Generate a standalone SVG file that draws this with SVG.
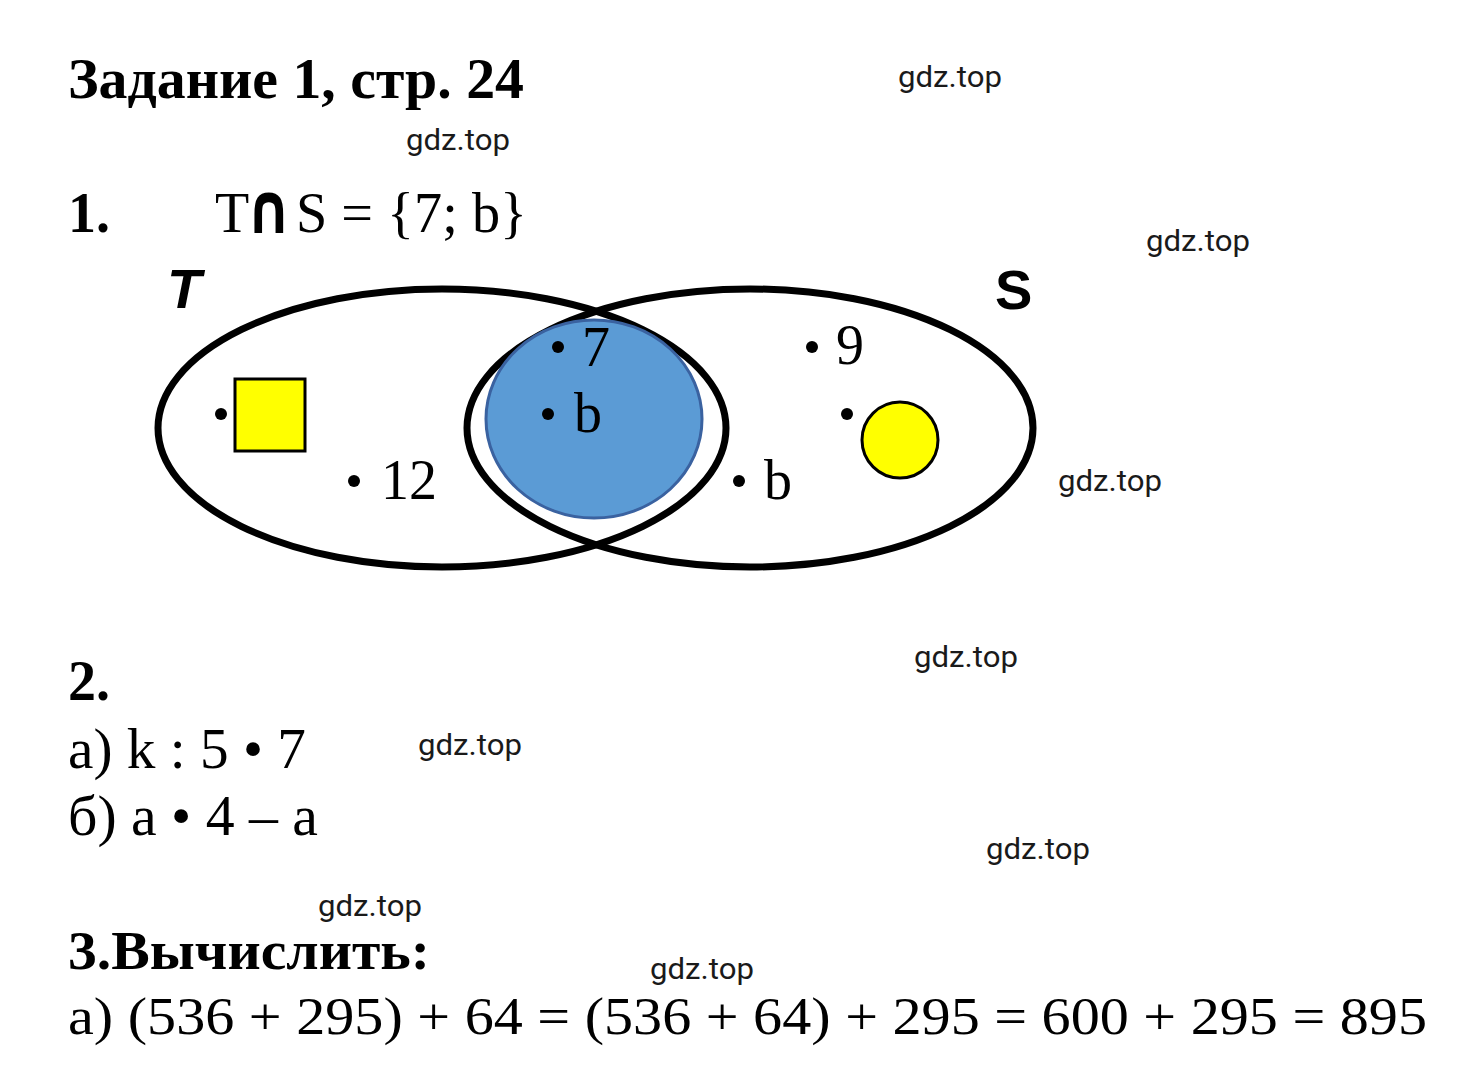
<svg xmlns="http://www.w3.org/2000/svg" width="1476" height="1083" viewBox="0 0 1476 1083">
<style>
.serif{font-family:"Liberation Serif","Times New Roman",serif;fill:#000}
.bold{font-weight:bold}
.wm{font-family:Roboto,"Liberation Sans",sans-serif;font-size:29px;fill:#1a1a1a}
.set{fill:none;stroke:#000;stroke-width:7}
.dot{fill:#000}
.lbl{font-family:"Liberation Serif",serif;font-size:56px;fill:#000}
</style>
<rect width="1476" height="1083" fill="#fff"/>
<g id="title"><text class="serif bold" x="68" y="98" font-size="57" textLength="456" lengthAdjust="spacingAndGlyphs">Задание 1, стр. 24</text></g>
<g id="task1">
<text class="serif bold" x="68" y="232" font-size="56">1.</text>
<text class="serif" x="215" y="232" font-size="56">T</text>
<text transform="translate(246,233) scale(1,1.25)" font-family="DejaVu Sans,sans-serif" font-size="56" font-weight="bold" fill="#000">∩</text>
<text class="serif" x="296" y="232" font-size="56" textLength="231" lengthAdjust="spacingAndGlyphs">S = {7; b}</text>
</g>
<g id="venn">
<g id="set-T"><ellipse class="set" cx="442" cy="428" rx="284" ry="139"/>
<text x="167" y="308" font-family="Liberation Sans,Arial,sans-serif" font-size="56" font-weight="bold" font-style="italic">T</text></g>
<g id="set-S"><ellipse class="set" cx="750" cy="428" rx="283" ry="139"/>
<text x="995" y="309" font-family="Liberation Sans,Arial,sans-serif" font-size="56" font-weight="bold">S</text></g>
<g id="intersection"><ellipse cx="594" cy="419" rx="108" ry="99" fill="#5B9BD5" stroke="#3A62A0" stroke-width="3"/></g>
<g id="square"><rect x="235" y="379" width="70" height="72" fill="#FFFF00" stroke="#000" stroke-width="3"/><circle class="dot" cx="221" cy="414" r="6"/></g>
<g id="el-12"><circle class="dot" cx="354" cy="481" r="6"/><text class="lbl" x="381" y="499">12</text></g>
<g id="el-7"><circle class="dot" cx="558" cy="347" r="6"/><text class="lbl" x="582" y="366">7</text></g>
<g id="el-b-in"><circle class="dot" cx="548" cy="414" r="6"/><text class="lbl" x="574" y="432">b</text></g>
<g id="el-9"><circle class="dot" cx="812" cy="347" r="6"/><text class="lbl" x="836" y="364">9</text></g>
<g id="el-b-out"><circle class="dot" cx="739" cy="481" r="6"/><text class="lbl" x="764" y="499">b</text></g>
<g id="circle"><circle cx="900" cy="440" r="38" fill="#FFFF00" stroke="#000" stroke-width="3"/><circle class="dot" cx="847" cy="414" r="6"/></g>
</g>
<g id="task2">
<text class="serif bold" x="68" y="700" font-size="56">2.</text>
<text class="serif" x="68" y="768" font-size="56" textLength="238" lengthAdjust="spacingAndGlyphs">а) k : 5 • 7</text>
<text class="serif" x="68" y="835" font-size="56" textLength="250" lengthAdjust="spacingAndGlyphs">б) а • 4 – а</text>
</g>
<g id="task3">
<text class="serif bold" x="68" y="969" font-size="55" textLength="362" lengthAdjust="spacingAndGlyphs">3.Вычислить:</text>
<text class="serif" x="68" y="1034" font-size="52" textLength="1359" lengthAdjust="spacingAndGlyphs">а) (536 + 295) + 64 = (536 + 64) + 295 = 600 + 295 = 895</text>
</g>
<g id="watermarks">
<text class="wm" x="898" y="87" textLength="104" lengthAdjust="spacingAndGlyphs">gdz.top</text>
<text class="wm" x="406" y="150" textLength="104" lengthAdjust="spacingAndGlyphs">gdz.top</text>
<text class="wm" x="1146" y="251" textLength="104" lengthAdjust="spacingAndGlyphs">gdz.top</text>
<text class="wm" x="1058" y="491" textLength="104" lengthAdjust="spacingAndGlyphs">gdz.top</text>
<text class="wm" x="914" y="667" textLength="104" lengthAdjust="spacingAndGlyphs">gdz.top</text>
<text class="wm" x="418" y="755" textLength="104" lengthAdjust="spacingAndGlyphs">gdz.top</text>
<text class="wm" x="986" y="859" textLength="104" lengthAdjust="spacingAndGlyphs">gdz.top</text>
<text class="wm" x="318" y="916" textLength="104" lengthAdjust="spacingAndGlyphs">gdz.top</text>
<text class="wm" x="650" y="979" textLength="104" lengthAdjust="spacingAndGlyphs">gdz.top</text>
</g>
</svg>
